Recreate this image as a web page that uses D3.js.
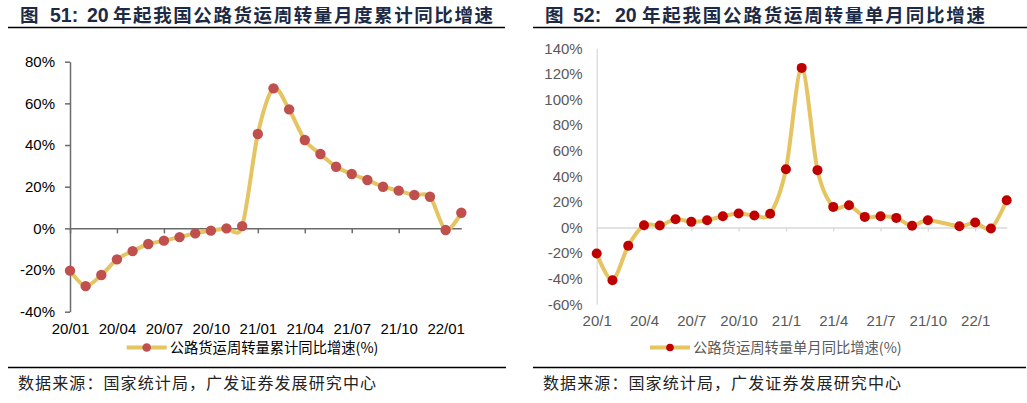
<!DOCTYPE html>
<html>
<head>
<meta charset="utf-8">
<script src="https://cdn.jsdelivr.net/npm/d3@7"></script>
<style>
  body { margin: 0; background: #fff; }
  svg { display: block; }
</style>
</head>
<body>
<div id="chart"></div>
<script>
// left panel: cumulative yoy growth (%)
const cumMonths = ["20/01","20/02","20/03","20/04","20/05","20/06","20/07","20/08","20/09","20/10","20/11","20/12",
  "21/01","21/02","21/03","21/04","21/05","21/06","21/07","21/08","21/09","21/10","21/11","21/12","22/01","22/02"];
const cumGrowth = [-20.3,-27.7,-22.4,-14.9,-10.9,-7.5,-5.9,-4.2,-2.4,-1.1,0.0,1.1,
  45.3,67.2,57.1,42.4,35.7,29.6,26.1,23.2,20.0,18.1,16.0,15.2,-0.8,7.5];
const cumTicks = ["20/01","20/04","20/07","20/10","21/01","21/04","21/07","21/10","22/01"];
const cumYTicks = [-40,-20,0,20,40,60,80];

// right panel: single month yoy growth (%), 21/11 missing
const monMonths = ["20/1","20/2","20/3","20/4","20/5","20/6","20/7","20/8","20/9","20/10","20/11","20/12",
  "21/1","21/2","21/3","21/4","21/5","21/6","21/7","21/8","21/9","21/10","21/11","21/12","22/1","22/2","22/3"];
const monGrowth = [-20.3,-41.2,-14.3,1.8,1.5,6.5,4.4,5.7,8.8,10.9,9.4,10.7,
  45.5,124.7,44.8,16.1,17.4,8.3,8.8,7.5,1.3,5.7,null,1.0,3.9,-0.8,21.3];
const monTicks = ["20/1","20/4","20/7","20/10","21/1","21/4","21/7","21/10","22/1"];
const monYTicks = [-60,-40,-20,0,20,40,60,80,100,120,140];

const W = 1027, H = 403;
const lineColor = "#E5C462";
const cjk = "'Noto Sans CJK SC', sans-serif";
const latin = "'Liberation Sans', Arial, sans-serif";

const svg = d3.select("#chart").append("svg")
  .attr("width", W).attr("height", H);

// titles
function title(cfg) {
  const t = svg.append("text")
    .attr("y", 21.5)
    .attr("fill", "#1d2a45")
    .style("font-weight", "bold");
  t.append("tspan").attr("x", cfg.x0).style("font-family", cjk).style("font-size", "18.5px").text("图");
  t.append("tspan").attr("x", cfg.x1).style("font-family", latin).style("font-size", "19.5px").text(cfg.num + ":");
  t.append("tspan").attr("x", cfg.x2).style("font-family", latin).style("font-size", "19.5px").text("20");
  t.append("tspan").attr("x", cfg.x3).style("font-family", cjk).style("font-size", "18.5px")
    .attr("textLength", cfg.len).attr("lengthAdjust", "spacing").text(cfg.rest);
  svg.append("line").attr("x1", cfg.lx1).attr("x2", cfg.lx2).attr("y1", 27.5).attr("y2", 27.5)
    .attr("stroke", "#000").attr("stroke-width", 1.5);
}
title({x0: 20, x1: 50, x2: 87, x3: 113, len: 380, num: "51", rest: "年起我国公路货运周转量月度累计同比增速", lx1: 8, lx2: 505});
title({x0: 545, x1: 573, x2: 615, x3: 642, len: 343, num: "52", rest: "年起我国公路货运周转量单月同比增速", lx1: 533, lx2: 1027});

// footers
function footer(x, lx1, lx2) {
  svg.append("line").attr("x1", lx1).attr("x2", lx2).attr("y1", 367.5).attr("y2", 367.5)
    .attr("stroke", "#000").attr("stroke-width", 1.3);
  svg.append("text").attr("x", x).attr("y", 389)
    .attr("textLength", 358).attr("lengthAdjust", "spacing")
    .style("font-family", cjk).style("font-size", "16px").attr("fill", "#222")
    .text("数据来源：国家统计局，广发证券发展研究中心");
}
footer(18, 8, 506);
footer(543, 533, 1026);

// generic panel
function panel(cfg) {
  const x = d3.scalePoint().domain(cfg.months).range(cfg.xRange).padding(0);
  const y = d3.scaleLinear().domain(cfg.yDomain).range(cfg.yRange);
  const g = svg.append("g");

  // y axis
  const yAxis = g.append("g").attr("transform", `translate(${cfg.xRange[0]},0)`)
    .call(d3.axisLeft(y).tickValues(cfg.yTicks).tickFormat(d => d + "%")
      .tickSize(cfg.yTickSize).tickSizeOuter(0).tickPadding(cfg.yPad));
  yAxis.select(".domain").attr("stroke", cfg.axisColor).attr("stroke-width", cfg.axisWidth);
  yAxis.selectAll(".tick line").attr("stroke", cfg.axisColor).attr("stroke-width", cfg.axisWidth);
  yAxis.selectAll("text").style("font-family", latin).style("font-size", "15px").attr("fill", cfg.textColor);

  // x axis on the zero line, labels pushed to the bottom
  const xAxis = g.append("g").attr("transform", `translate(0,${y(0)})`)
    .call(d3.axisBottom(x).tickValues(cfg.ticks).tickSize(cfg.xTickSize).tickSizeOuter(0).tickPadding(cfg.xPad));
  xAxis.select(".domain").attr("stroke", cfg.axisColor).attr("stroke-width", cfg.axisWidth);
  xAxis.selectAll(".tick line").attr("stroke", cfg.axisColor).attr("stroke-width", cfg.axisWidth);
  xAxis.selectAll("text").style("font-family", latin).style("font-size", "15px").attr("fill", cfg.textColor);

  const pts = cfg.months.map((m, i) => ({m: m, v: cfg.values[i]})).filter(d => d.v !== null);

  const line = d3.line().x(d => x(d.m)).y(d => y(d.v)).curve(d3.curveCardinal.tension(0.1));
  g.append("path").datum(pts)
    .attr("d", line).attr("fill", "none")
    .attr("stroke", lineColor).attr("stroke-width", 4).attr("stroke-linejoin", "round");

  g.selectAll("circle.pt").data(pts).enter().append("circle")
    .attr("class", "pt")
    .attr("cx", d => x(d.m)).attr("cy", d => y(d.v)).attr("r", cfg.r)
    .attr("fill", cfg.markerColor);

  // legend
  const lg = svg.append("g").attr("transform", `translate(${cfg.legendX},347.5)`);
  lg.append("line").attr("x1", 0).attr("x2", 40).attr("stroke", lineColor).attr("stroke-width", 4);
  lg.append("circle").attr("cx", 20).attr("r", cfg.legendR).attr("fill", cfg.markerColor);
  lg.append("text").attr("x", 43).attr("y", 5)
    .style("font-family", cjk).style("font-size", "14.3px").attr("fill", cfg.textColor)
    .text(cfg.legend);
}

panel({
  months: cumMonths, values: cumGrowth, ticks: cumTicks, yTicks: cumYTicks,
  xRange: [70, 461.3], yDomain: [-40, 80], yRange: [311.7, 61.7],
  yTickSize: 5, yPad: 10, xTickSize: 5, xPad: 90,
  axisColor: "#6b6b6b", axisWidth: 1.5, textColor: "#000",
  markerColor: "#C0504D", r: 5.2, legendR: 4.3,
  legendX: 126.7, legend: "公路货运周转量累计同比增速(%)"
});

panel({
  months: monMonths, values: monGrowth, ticks: monTicks, yTicks: monYTicks,
  xRange: [596.7, 1006.7], yDomain: [-60, 140], yRange: [304.3, 48.3],
  yTickSize: 0, yPad: 14, xTickSize: 4, xPad: 84,
  axisColor: "#D9D9D9", axisWidth: 1.3, textColor: "#595959",
  markerColor: "#C00000", r: 5, legendR: 3.8,
  legendX: 650, legend: "公路货运周转量单月同比增速(%)"
});
</script>
</body>
</html>
